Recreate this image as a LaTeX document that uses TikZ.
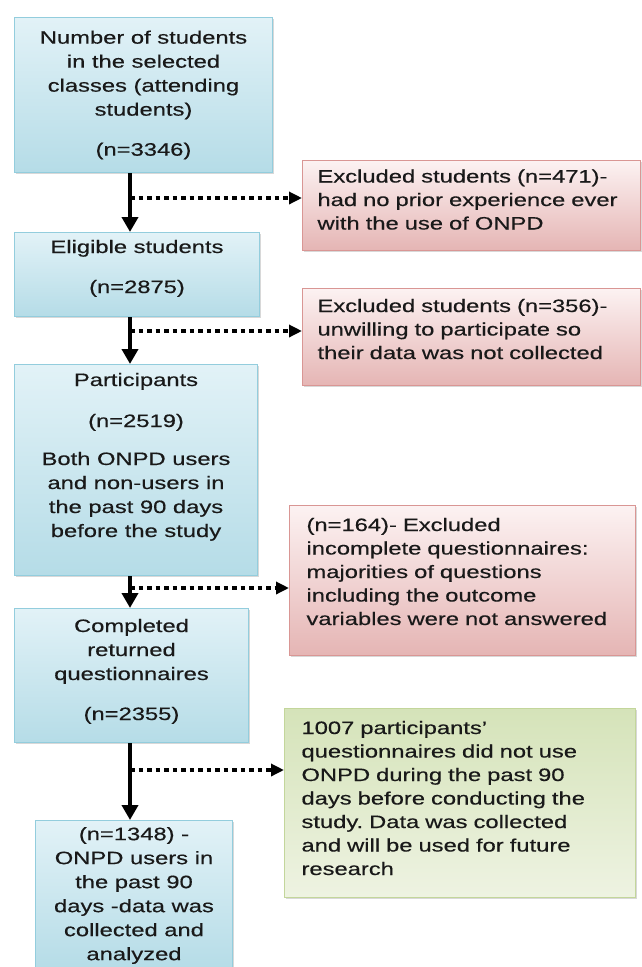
\documentclass[tikz,border=0pt]{standalone}
\usepackage{fontspec}
\setmainfont{Liberation Sans}[FakeStretch=1.32,FakeBold=0.4]
\usetikzlibrary{arrows.meta,positioning,shadows}
\frenchspacing

\definecolor{stageline}{HTML}{93CDDD}
\definecolor{stagetop}{HTML}{E2F2F7}
\definecolor{stagebottom}{HTML}{B5DCE7}
\definecolor{exclline}{HTML}{D99694}
\definecolor{excltop}{HTML}{FCF2F2}
\definecolor{exclbottom}{HTML}{E5B5B4}
\definecolor{keptline}{HTML}{C3D69B}
\definecolor{kepttop}{HTML}{D5E3B9}
\definecolor{keptbottom}{HTML}{EEF3E2}

\begin{document}
\begin{tikzpicture}
    [x=1pt,y=-1pt,
    stage/.style={rectangle,draw=stageline,line width=1pt,
    top color=stagetop,bottom color=stagebottom,
    drop shadow={shadow xshift=1.5pt,shadow yshift=-1.5pt,opacity=.3},
    align=center,inner sep=4pt,text=black!90,
    font=\fontsize{18}{24}\selectfont},
    excluded/.style={rectangle,draw=exclline,line width=1pt,
    top color=excltop,bottom color=exclbottom,
    drop shadow={shadow xshift=1.5pt,shadow yshift=-1.5pt,opacity=.3},
    align=left,inner xsep=15pt,inner ysep=4pt,text=black!90,
    font=\fontsize{18}{23.5}\selectfont,anchor=north west},
    retained/.style={excluded,draw=keptline,
    top color=kepttop,bottom color=keptbottom},
    flow/.style={line width=4pt,-{Triangle[length=15pt,width=16pt]}},
    aside/.style={line width=3.5pt,dash pattern=on 4.5pt off 4pt,
    -{Triangle[length=13pt,width=12pt]}}]
    \path[use as bounding box,fill=white] (0,0) rectangle (641,967);
    \coordinate (spine) at (130,0);

    \node[stage,minimum width=258pt,minimum height=155pt,anchor=north west] (selected) at (14,17)
        {Number of students\\in the selected\\classes (attending\\students)\\[16pt](n=3346)};
    \node[stage,minimum width=245pt,minimum height=84pt,text depth=16pt,below=59pt of selected.south west,anchor=north west] (eligible)
        {Eligible students\\[16pt](n=2875)};
    \node[stage,minimum width=243pt,minimum height=211pt,text depth=30pt,below=47pt of eligible.south west,anchor=north west] (participants)
        {Participants\\[17pt](n=2519)\\[14pt]Both ONPD users\\and non-users in\\the past 90 days\\before the study};
    \node[stage,minimum width=234pt,minimum height=134pt,text depth=12pt,below=32pt of participants.south west,anchor=north west] (completed)
        {Completed\\returned\\questionnaires\\[16pt](n=2355)};
    \node[stage,minimum width=197pt,minimum height=150pt,below=77pt of completed.south west,anchor=north west,xshift=21pt] (analysed)
        {(n=1348) -\\ONPD users in\\the past 90\\days -data was\\collected and\\analyzed};

    \node[excluded,text width=308pt,minimum height=90pt,text depth=59pt] (noexperience) at (302,160)
        {Excluded students (n=471)-\\had no prior experience ever\\with the use of ONPD};
    \node[excluded,text width=308pt,minimum height=97pt,text depth=63pt] (unwilling) at (302,288)
        {Excluded students (n=356)-\\unwilling to participate so\\their data was not collected};
    \node[excluded,inner xsep=17pt,text width=312pt,minimum height=150pt,text depth=112pt] (incomplete) at (289,505)
        {(n=164)- Excluded\\incomplete questionnaires:\\majorities of questions\\including the outcome\\variables were not answered};
    \node[retained,inner xsep=17pt,text width=317pt,minimum height=189pt,text depth=151pt] (nonusers) at (284,708)
        {1007 participants'\\questionnaires did not use\\ONPD during the past 90\\days before conducting the\\study. Data was collected\\and will be used for future\\research};

    \coordinate (j1) at (130,198);
    \coordinate (j2) at (130,331);
    \coordinate (j3) at (130,588);
    \coordinate (j4) at (130,770);

    \draw[flow] (selected.south -| spine) -- (eligible.north -| spine);
    \draw[flow] (eligible.south -| spine) -- (participants.north -| spine);
    \draw[flow] (participants.south -| spine) -- (completed.north -| spine);
    \draw[flow] (completed.south -| spine) -- (analysed.north -| spine);

    \draw[aside] (j1) -- (noexperience.west |- j1);
    \draw[aside] (j2) -- (unwilling.west |- j2);
    \draw[aside] (j3) -- (incomplete.west |- j3);
    \draw[aside] (j4) -- (nonusers.west |- j4);
\end{tikzpicture}
\end{document}
